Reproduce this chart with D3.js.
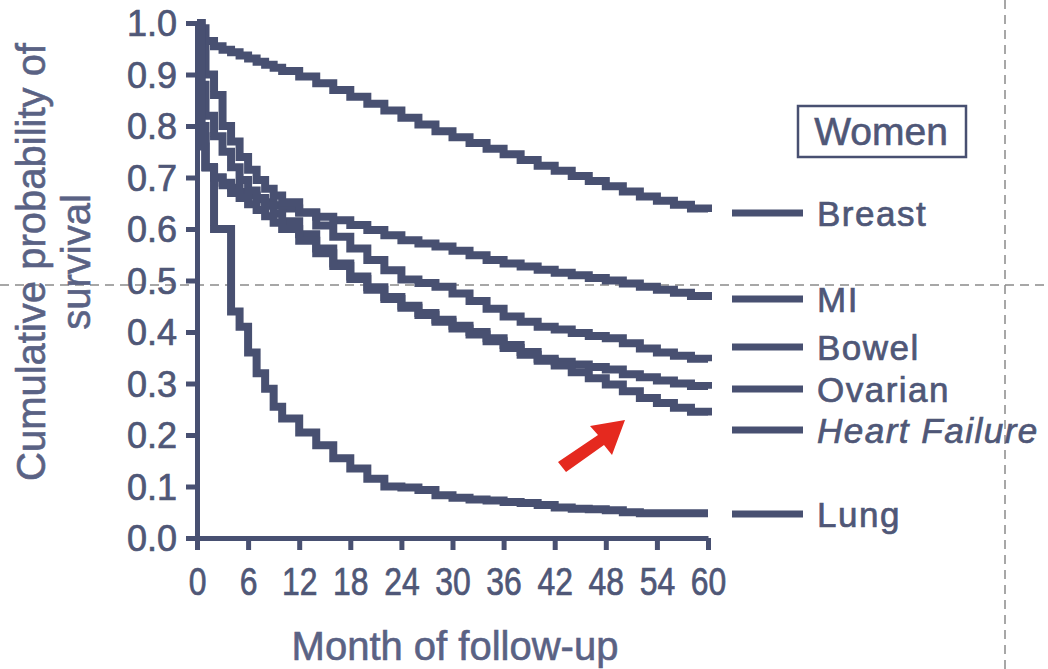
<!DOCTYPE html>
<html>
<head>
<meta charset="utf-8">
<script src="https://cdn.jsdelivr.net/npm/d3@7"></script>
<style>
  body { margin: 0; background: #fff; }
  svg { display: block; }
</style>
</head>
<body>
<div id="chart"></div>
<script>
const months = [0, 0.5, 1, 2, 3, 4, 5, 6, 7, 8, 9, 10, 12, 14, 16, 18, 20, 22, 24, 26, 28, 30,
  32, 34, 36, 38, 40, 42, 44, 46, 48, 50, 52, 54, 56, 58, 60];

const breast = [1.0, 0.99, 0.965, 0.955, 0.948, 0.943, 0.937, 0.931, 0.925, 0.919, 0.913, 0.907,
  0.896, 0.883, 0.87, 0.857, 0.843, 0.83, 0.816, 0.803, 0.79, 0.778, 0.767, 0.756, 0.745, 0.734,
  0.723, 0.713, 0.703, 0.693, 0.683, 0.673, 0.663, 0.655, 0.647, 0.64, 0.633];
const mi = [1.0, 0.78, 0.72, 0.70, 0.69, 0.68, 0.672, 0.665, 0.658, 0.652, 0.646, 0.64,
  0.632, 0.624, 0.617, 0.608, 0.598, 0.588, 0.578, 0.572, 0.566, 0.558, 0.549, 0.54, 0.533, 0.527,
  0.521, 0.515, 0.51, 0.505, 0.5, 0.494, 0.488, 0.482, 0.476, 0.47, 0.462];
const bowel = [1.0, 0.95, 0.9, 0.86, 0.8, 0.77, 0.74, 0.715, 0.695, 0.678, 0.665, 0.652,
  0.632, 0.607, 0.585, 0.562, 0.54, 0.52, 0.502, 0.495, 0.488, 0.475, 0.46, 0.445, 0.43, 0.42,
  0.41, 0.405, 0.398, 0.392, 0.388, 0.378, 0.368, 0.36, 0.354, 0.348, 0.343];
const ovarian = [1.0, 0.88, 0.82, 0.78, 0.75, 0.72, 0.695, 0.675, 0.66, 0.645, 0.63, 0.615,
  0.59, 0.562, 0.533, 0.508, 0.487, 0.468, 0.451, 0.437, 0.424, 0.412, 0.4, 0.388, 0.375, 0.361,
  0.348, 0.342, 0.337, 0.332, 0.327, 0.318, 0.312, 0.306, 0.3, 0.295, 0.29];
const heartFailure = [1.0, 0.76, 0.72, 0.70, 0.685, 0.67, 0.66, 0.648, 0.637, 0.625, 0.612, 0.6,
  0.577, 0.553, 0.528, 0.503, 0.482, 0.464, 0.447, 0.433, 0.42, 0.407, 0.395, 0.382, 0.369, 0.356,
  0.344, 0.335, 0.322, 0.31, 0.298, 0.285, 0.272, 0.262, 0.253, 0.245, 0.238];
const lung = [1.0, 0.8, 0.72, 0.6, 0.6, 0.44, 0.41, 0.36, 0.32, 0.29, 0.255, 0.232,
  0.205, 0.18, 0.155, 0.135, 0.115, 0.1, 0.098, 0.093, 0.083, 0.078, 0.075, 0.073, 0.07, 0.068,
  0.064, 0.059, 0.057, 0.056, 0.054, 0.05, 0.048, 0.048, 0.048, 0.048, 0.048];

const seriesNames = ["Breast", "MI", "Bowel", "Ovarian", "Heart Failure", "Lung"];
const seriesValues = [breast, mi, bowel, ovarian, heartFailure, lung];

const xTicks = [0, 6, 12, 18, 24, 30, 36, 42, 48, 54, 60];
const yTicks = [0, 0.1, 0.2, 0.3, 0.4, 0.5, 0.6, 0.7, 0.8, 0.9, 1.0];

const width = 1048, height = 669;
const ink = "#485071";
const textInk = "#4f5777";
const titleInk = "#5a6284";
const font = "'Liberation Sans', Arial, sans-serif";

// legend rows sit next to the curve ends (pixel y of each row)
const legendRowY = [213, 299, 347, 389, 430, 514];

const svg = d3.select("#chart").append("svg")
    .attr("width", width)
    .attr("height", height);

const x = d3.scaleLinear().domain([0, 60]).range([197, 708]);
const y = d3.scaleLinear().domain([0, 1]).range([538, 23]);

// scan guide lines
svg.append("line")
    .attr("x1", 0).attr("x2", width)
    .attr("y1", 285).attr("y2", 285)
    .attr("stroke", "#8a8a8a").attr("stroke-width", 1.5)
    .attr("stroke-dasharray", "9,6");
svg.append("line")
    .attr("x1", 1005).attr("x2", 1005)
    .attr("y1", 0).attr("y2", height)
    .attr("stroke", "#8a8a8a").attr("stroke-width", 1.5)
    .attr("stroke-dasharray", "9,6");

// curves
const line = d3.line()
    .x(d => x(d[0]))
    .y(d => y(d[1]))
    .curve(d3.curveStepAfter);

svg.append("g")
    .attr("fill", "none")
    .attr("stroke", ink)
    .attr("stroke-width", 8)
    .selectAll("path")
    .data(seriesValues)
    .join("path")
    .attr("d", vals => line(months.map((m, i) => [m, vals[i]])));

// axes
const yAxis = svg.append("g")
    .attr("transform", `translate(${x(0)},0)`)
    .call(d3.axisLeft(y).tickValues(yTicks).tickFormat(d3.format(".1f"))
      .tickSize(11).tickSizeOuter(0).tickPadding(9));

const xAxis = svg.append("g")
    .attr("transform", `translate(0,${y(0)})`)
    .call(d3.axisBottom(x).tickValues(xTicks).tickFormat(d3.format("d"))
      .tickSize(12).tickSizeOuter(0).tickPadding(18));

[xAxis, yAxis].forEach(a => {
  a.select(".domain").attr("stroke", ink).attr("stroke-width", 5);
  a.selectAll(".tick line").attr("stroke", ink).attr("stroke-width", 5);
  a.selectAll(".tick text")
      .attr("fill", textInk)
      .attr("stroke", textInk)
      .attr("stroke-width", 0.7)
      .style("font-family", font);
});
yAxis.selectAll(".tick text").attr("dy", "0.36em").style("font-size", "36px");
xAxis.selectAll(".tick text")
    .attr("dy", "0.71em")
    .attr("transform", "scale(0.84,1)")
    .style("font-size", "38px");

// axis titles
const titles = [
  { text: "Cumulative probability of", t: "translate(45,262) rotate(-90)" },
  { text: "survival", t: "translate(90,262) rotate(-90)" },
  { text: "Month of follow-up", t: "translate(455,660)" }
];
svg.selectAll(".title")
    .data(titles)
    .join("text")
    .attr("class", "title")
    .attr("transform", d => d.t)
    .attr("text-anchor", "middle")
    .attr("fill", titleInk)
    .attr("stroke", titleInk)
    .attr("stroke-width", 0.6)
    .style("font-family", font)
    .style("font-size", "40px")
    .text(d => d.text);

// Women box
svg.append("rect")
    .attr("x", 798).attr("y", 106)
    .attr("width", 168).attr("height", 51)
    .attr("fill", "none")
    .attr("stroke", ink)
    .attr("stroke-width", 2.5);
svg.append("text")
    .attr("x", 881).attr("y", 145)
    .attr("text-anchor", "middle")
    .attr("fill", textInk)
    .attr("stroke", textInk)
    .attr("stroke-width", 0.6)
    .style("font-family", font)
    .style("font-size", "39px")
    .text("Women");

// legend
const legend = svg.append("g")
    .selectAll("g")
    .data(seriesNames)
    .join("g")
    .attr("transform", (d, i) => `translate(0,${legendRowY[i]})`);

legend.append("line")
    .attr("x1", 732).attr("x2", 803)
    .attr("stroke", ink)
    .attr("stroke-width", 7);

legend.append("text")
    .attr("x", 817)
    .attr("dy", "0.36em")
    .attr("fill", textInk)
    .attr("stroke", textInk)
    .attr("stroke-width", 0.7)
    .attr("letter-spacing", "1.5px")
    .style("font-family", font)
    .style("font-size", "35px")
    .style("font-style", d => d === "Heart Failure" ? "italic" : "normal")
    .text(d => d);

// red arrow
const arrowPts = [[558, 462], [598, 435], [590, 426], [625, 420], [612, 455], [604, 445], [566, 472]];
svg.append("polygon")
    .attr("points", arrowPts.map(p => p.join(",")).join(" "))
    .attr("fill", "#e5291f");
</script>
</body>
</html>
